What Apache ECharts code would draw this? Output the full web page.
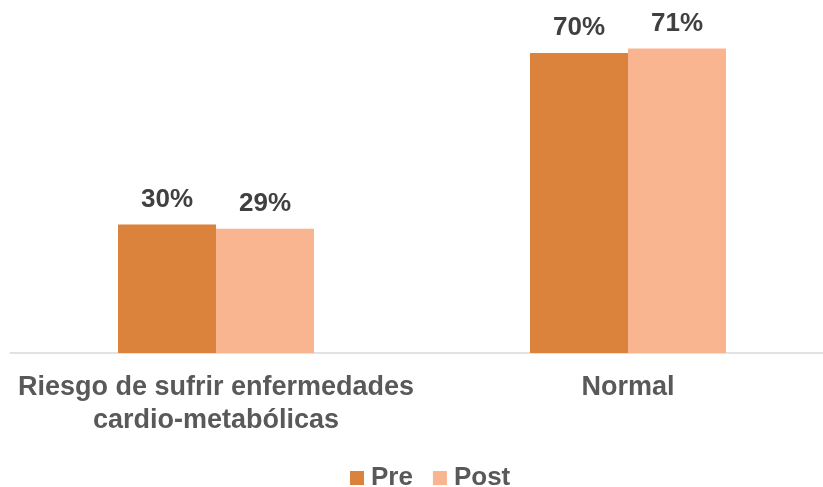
<!DOCTYPE html>
<html>
<head>
<meta charset="utf-8">
<script src="https://cdn.jsdelivr.net/npm/echarts@6/dist/echarts.min.js"></script>
<style>html,body{margin:0;padding:0;background:#fff;}#c{width:823px;height:487px;}</style>
</head>
<body>
<div id="c"></div>
<script>
const categories = ['Riesgo de sufrir enfermedades\ncardio-metabólicas', 'Normal'];
const preValues = [30, 70];
const postValues = [29, 71];
const seriesNames = ['Pre', 'Post'];

const FONT = '"Liberation Sans", Arial, sans-serif';
const chart = echarts.init(document.getElementById('c'));
const labelStyle = {
  show: true, position: 'top', distance: 12,
  formatter: p => p.value + '%',
  fontFamily: FONT, fontWeight: 'bold', fontSize: 26, color: '#404040'
};
chart.setOption({
  animation: false,
  grid: { left: 10, right: -11, top: 10, height: 343, containLabel: false, outerBoundsMode: 'none' },
  legend: {
    data: seriesNames, top: 460, left: 345,
    itemWidth: 14, itemHeight: 14, itemGap: 20, icon: 'rect',
    textStyle: { fontFamily: FONT, fontWeight: 'bold', fontSize: 26, color: '#595959', padding: [0, 0, 0, 2] }
  },
  xAxis: {
    type: 'category', data: categories,
    axisLine: { lineStyle: { color: '#d9d9d9', width: 1.5 } },
    axisTick: { show: false },
    axisLabel: { margin: 18, lineHeight: 33, fontFamily: FONT, fontWeight: 'bold', fontSize: 27, color: '#595959', interval: 0 }
  },
  yAxis: { type: 'value', min: 0, max: 80, show: false, splitLine: { show: false } },
  series: [
    { name: seriesNames[0], type: 'bar', data: preValues, barWidth: 98, barGap: '0%', itemStyle: { color: '#DB823D' }, label: labelStyle },
    { name: seriesNames[1], type: 'bar', data: postValues, barWidth: 98, itemStyle: { color: '#F8B590' }, label: labelStyle }
  ]
});
</script>
</body>
</html>
